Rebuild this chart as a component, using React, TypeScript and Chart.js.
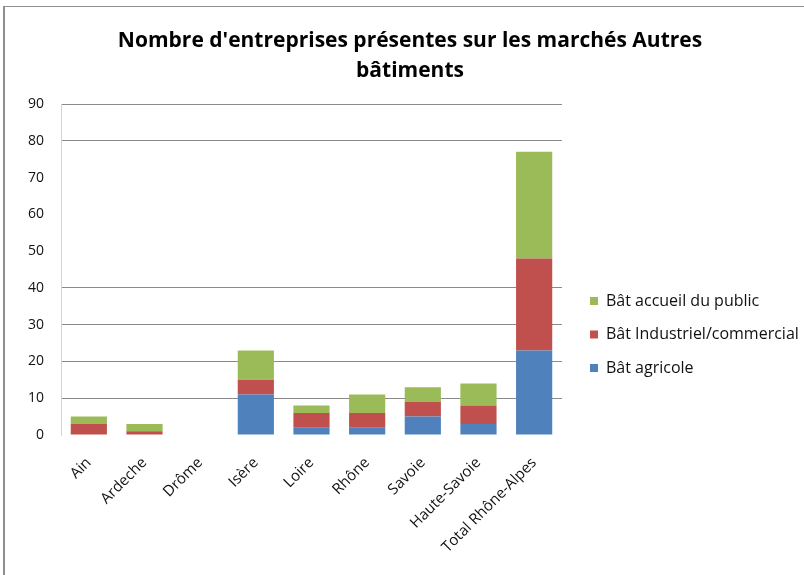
import React, { useEffect, useRef } from "react";
import { Chart, registerables } from "chart.js";

Chart.register(...registerables);

const categories = ["Ain", "Ardeche", "Drôme", "Isère", "Loire", "Rhône", "Savoie", "Haute-Savoie", "Total Rhône-Alpes"];
const batAgricole = [0, 0, 0, 11, 2, 2, 5, 3, 23];
const batIndustriel = [3, 1, 0, 4, 4, 4, 4, 5, 25];
const batPublic = [2, 2, 0, 8, 2, 5, 4, 6, 29];
const seriesNames = ["Bât agricole", "Bât Industriel/commercial", "Bât accueil du public"];
const titleLines = ["Nombre d'entreprises présentes sur les marchés Autres", "bâtiments"];
// gridline shown (true) or not for ticks 0,10,...,90
const gridShown = [false, true, true, true, true, false, false, false, true, true];

const FONT = "'Open Sans', Lato, sans-serif";
const LEGEND_PAD = 17.5;

const boxShift = {
  id: "boxShift",
  afterLayout(chart: any) {
    const lg = chart.legend;
    if (lg) {
      const h = lg.bottom - lg.top;
      lg.left = 590 - LEGEND_PAD;
      lg.right = chart.width;
      lg.width = lg.right - lg.left;
      lg.top += 47;
      lg.bottom = lg.top + h;
    }
    const tb = chart.titleBlock;
    if (tb) {
      tb.left = 16;
      tb.right = chart.width;
      tb.width = tb.right - tb.left;
    }
  },
};

export default function App() {
  const ref = useRef<HTMLCanvasElement | null>(null);

  useEffect(() => {
    document.body.style.margin = "0";
    const canvas = ref.current;
    if (!canvas) return;
    const chart = new Chart(canvas, {
      type: "bar",
      data: {
        labels: categories,
        datasets: [
          { label: seriesNames[0], data: batAgricole, backgroundColor: "#4F81BD" },
          { label: seriesNames[1], data: batIndustriel, backgroundColor: "#C0504D" },
          { label: seriesNames[2], data: batPublic, backgroundColor: "#9BBB59" },
        ],
      },
      options: {
        animation: false,
        responsive: false,
        maintainAspectRatio: false,
        devicePixelRatio: 1,
        datasets: { bar: { barPercentage: 0.65, categoryPercentage: 1 } },
        layout: { padding: { left: 0, right: 54.7, top: 0, bottom: 0 } },
        plugins: {
          title: {
            display: true,
            text: titleLines,
            color: "#000",
            font: { family: FONT, size: 21, weight: "bold", lineHeight: "30px" },
            padding: { top: 26, bottom: 18 },
          },
          legend: {
            position: "right",
            reverse: true,
            labels: {
              boxWidth: 8,
              boxHeight: 8,
              padding: LEGEND_PAD,
              color: "#111",
              font: { family: FONT, size: 16 },
            },
          },
          tooltip: { enabled: false },
        },
        scales: {
          x: {
            stacked: true,
            grid: { display: false },
            border: { display: false },
            ticks: {
              minRotation: 45,
              maxRotation: 45,
              color: "#111",
              font: { family: FONT, size: 15 },
              padding: 11,
            },
            afterFit: (s: any) => {
              s.height = 140;
            },
          },
          y: {
            stacked: true,
            min: 0,
            max: 90,
            ticks: {
              stepSize: 10,
              padding: 17,
              color: "#111",
              font: { family: FONT, size: 14 },
            },
            grid: {
              drawTicks: false,
              color: gridShown.map((s) => (s ? "#8a8a8a" : "rgba(0,0,0,0)")),
            },
            border: { display: true, color: "#d4d4d4" },
            afterFit: (s: any) => {
              s.width = 61;
            },
          },
        },
      },
      plugins: [boxShift],
    });
    return () => chart.destroy();
  }, []);

  return (
    <div style={{ position: "relative", width: 804, height: 575, overflow: "hidden", background: "#fff" }}>
      <div
        style={{
          position: "absolute",
          left: 3,
          top: 6,
          width: 900,
          height: 700,
          borderLeft: "2px solid #8f8f8f",
          borderTop: "1px solid #8f8f8f",
        }}
      />
      <canvas ref={ref} width={804} height={575} style={{ position: "absolute", left: 0, top: 0 }} />
    </div>
  );
}
